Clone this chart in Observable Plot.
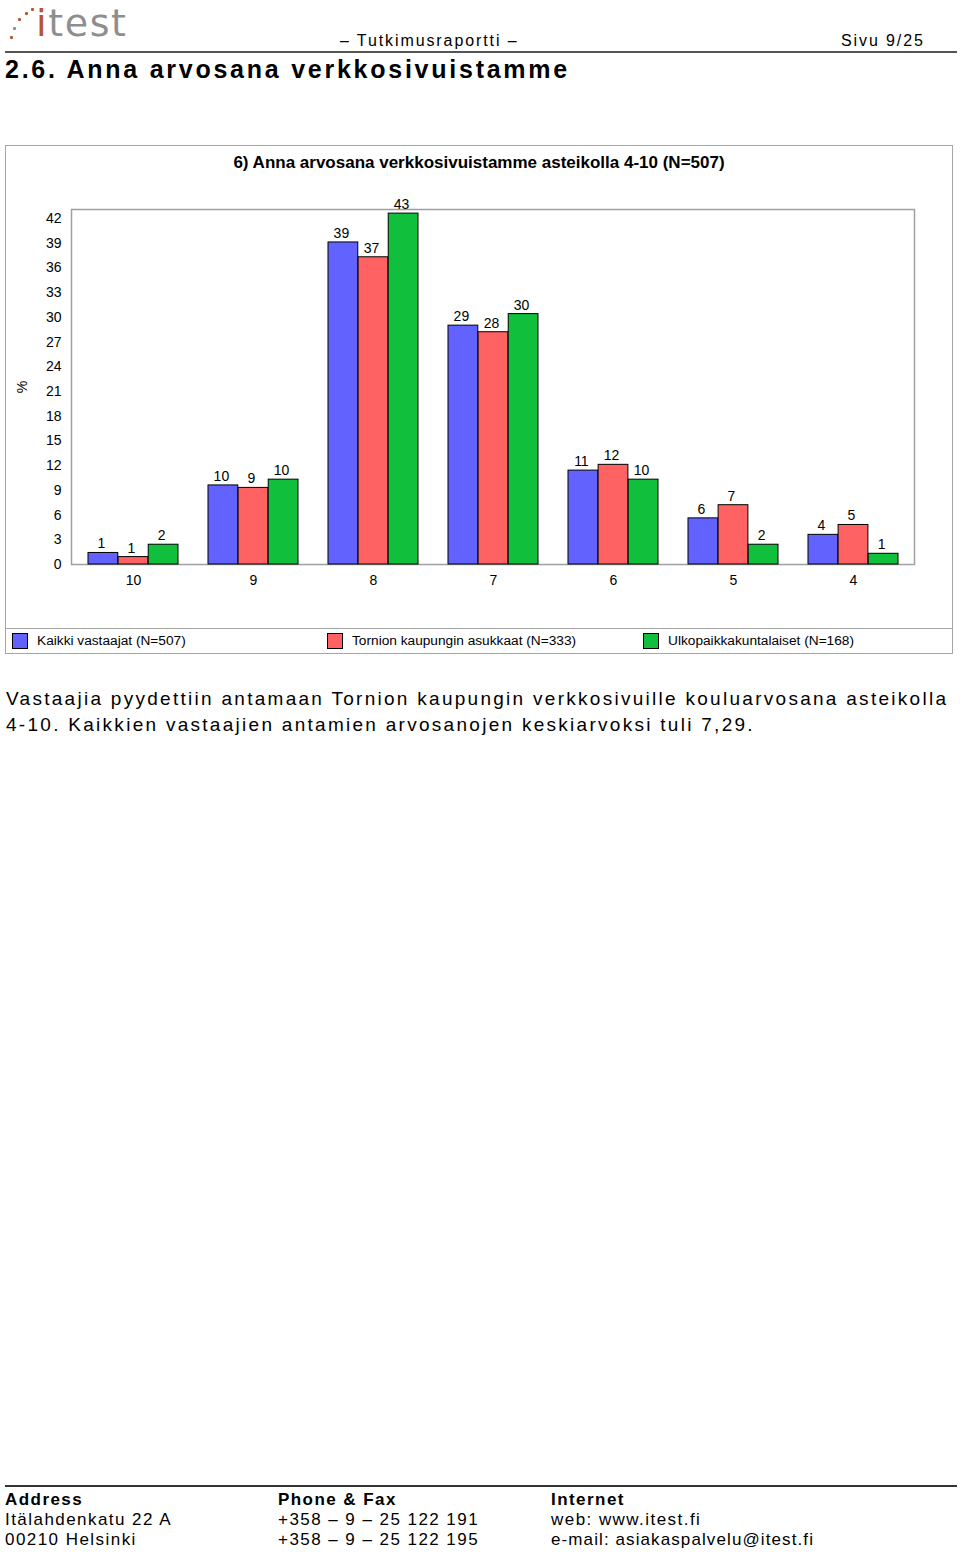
<!DOCTYPE html>
<html>
<head>
<meta charset="utf-8">
<script src="https://cdn.jsdelivr.net/npm/d3@7"></script>
<script src="https://cdn.jsdelivr.net/npm/@observablehq/plot@0.6"></script>
<style>
  html, body { margin: 0; padding: 0; background: #fff; }
  body { width: 960px; height: 1554px; position: relative; overflow: hidden; font-family: "Liberation Sans", Arial, sans-serif; color: #000; }
  .abs { position: absolute; white-space: nowrap; }
  .logo-i { color: #b5562f; }
  .logo-t { color: #8e8e8e; }
  .dot { position: absolute; width: 3px; height: 3px; border-radius: 1px; }
  #chart { position: absolute; left: 5px; top: 145px; width: 948px; height: 509px; border: 1px solid #a6a6a6; box-sizing: border-box; }
  #ctitle { position: absolute; left: 0; top: 7px; width: 946px; text-align: center; font-weight: bold; font-size: 17px; font-family: "Liberation Sans", Arial, sans-serif; }
  #plot { position: absolute; left: 0; top: 0; }
  #legend { position: absolute; left: 0; top: 482px; width: 946px; height: 25px; border-top: 1px solid #a6a6a6; font-size: 13.7px; font-family: "Liberation Sans", Arial, sans-serif; }
  .sw { position: absolute; top: 4px; width: 16px; height: 16px; border: 1px solid #000; box-sizing: border-box; }
  .lt { position: absolute; top: 4px; line-height: 16px; }
  .pg { font-size: 16px; letter-spacing: 1.9px; }
  .foot { font-size: 17px; letter-spacing: 1.45px; line-height: 20px; }
</style>
</head>
<body>
<!-- header -->
<div class="dot" style="left:10px;top:36px;background:#b5562f"></div>
<div class="dot" style="left:13px;top:27px;background:#8e8e8e"></div>
<div class="dot" style="left:18px;top:18px;background:#b5562f"></div>
<div class="dot" style="left:25px;top:12px;background:#b5562f"></div>
<div class="dot" style="left:31px;top:8px;background:#b5562f"></div>
<div class="abs" style="left:36px;top:3px;font-size:38px;line-height:40px;font-family:'DejaVu Sans',sans-serif;letter-spacing:1.6px;"><span class="logo-i">i</span><span class="logo-t">test</span></div>
<div class="abs pg" style="left:340px;top:32px;">– Tutkimusraportti –</div>
<div class="abs pg" style="left:841px;top:32px;">Sivu 9/25</div>
<div class="abs" style="left:5px;top:51px;width:952px;height:2px;background:#555;"></div>
<div class="abs" style="left:5px;top:55px;font-size:25px;font-weight:bold;letter-spacing:2.75px;">2.6. Anna arvosana verkkosivuistamme</div>

<div id="chart">
  <div id="plot"></div>
  <div id="ctitle">6) Anna arvosana verkkosivuistamme asteikolla 4-10 (N=507)</div>
  <div id="legend"></div>
</div>

<div class="abs" style="left:6px;top:686px;font-size:19px;letter-spacing:2.28px;line-height:26px;">Vastaajia pyydettiin antamaan Tornion kaupungin verkkosivuille kouluarvosana asteikolla<br>4-10. Kaikkien vastaajien antamien arvosanojen keskiarvoksi tuli 7,29.</div>

<!-- footer -->
<div class="abs" style="left:5px;top:1485px;width:952px;height:2px;background:#333;"></div>
<div class="abs foot" style="left:5px;top:1490px;"><b>Address</b><br>Itälahdenkatu 22 A<br>00210 Helsinki</div>
<div class="abs foot" style="left:278px;top:1490px;"><b>Phone &amp; Fax</b><br>+358 – 9 – 25 122 191<br>+358 – 9 – 25 122 195</div>
<div class="abs foot" style="left:551px;top:1490px;"><b>Internet</b><br>web: www.itest.fi<br><span style="letter-spacing:1.1px">e-mail: asiakaspalvelu@itest.fi</span></div>

<script>
const grades = ["10", "9", "8", "7", "6", "5", "4"];
const seriesNames = ["Kaikki vastaajat (N=507)", "Tornion kaupungin asukkaat (N=333)", "Ulkopaikkakuntalaiset (N=168)"];
const kaikki = [1.4, 9.6, 39.1, 29.0, 11.4, 5.6, 3.6];
const tornio = [0.9, 9.3, 37.3, 28.2, 12.1, 7.2, 4.8];
const ulko   = [2.4, 10.3, 42.6, 30.4, 10.3, 2.4, 1.3];
const seriesColors = ["#6262ff", "#ff6262", "#10c03c"];
const yTicks = [0, 3, 6, 9, 12, 15, 18, 21, 24, 27, 30, 33, 36, 39, 42];

const seriesValues = [kaikki, tornio, ulko];

const W = 946, ML = 65, MR = 38;
const step = (W - ML - MR) / grades.length;
const barW = step * 0.75 / seriesNames.length;

const barMarks = seriesNames.flatMap((s, j) => {
  const rows = grades.map((g, i) => ({grade: g, series: s, value: seriesValues[j][i]}));
  return [
    Plot.barY(rows, {x: "grade", y: "value", fill: "series", stroke: "#000", strokeWidth: 1,
      insetLeft: barW * j, insetRight: barW * (seriesNames.length - 1 - j)}),
    Plot.text(rows, {x: "grade", y: "value", text: d => d3.format(".0f")(d.value),
      dx: barW * (j - 1) - 2, dy: -9, fontSize: 14})
  ];
});

const chart = Plot.plot({
  width: W,
  height: 481,
  marginLeft: ML,
  marginRight: MR,
  marginTop: 63,
  marginBottom: 63,
  style: {fontFamily: "'Liberation Sans', Arial, sans-serif", fontSize: "14px", background: "transparent", color: "#000", overflow: "visible"},
  x: {domain: grades, paddingInner: 0.25, paddingOuter: 0.125, tickSize: 0, tickPadding: 11, label: null},
  y: {domain: [0, 43.1], ticks: yTicks, tickSize: 0, tickPadding: 10, label: "%", labelAnchor: "center", labelArrow: "none", labelOffset: 54},
  color: {domain: seriesNames, range: seriesColors},
  marks: [
    Plot.frame({stroke: "#a0a0a0", strokeWidth: 1.5}),
    ...barMarks
  ]
});
document.getElementById("plot").appendChild(chart);

const legend = document.getElementById("legend");
const legendX = [6, 321, 637];
seriesNames.forEach((s, j) => {
  const sw = document.createElement("div");
  sw.className = "sw";
  sw.style.left = legendX[j] + "px";
  sw.style.background = seriesColors[j];
  legend.appendChild(sw);
  const t = document.createElement("div");
  t.className = "lt";
  t.style.left = (legendX[j] + 25) + "px";
  t.textContent = s;
  legend.appendChild(t);
});
</script>
</body>
</html>
